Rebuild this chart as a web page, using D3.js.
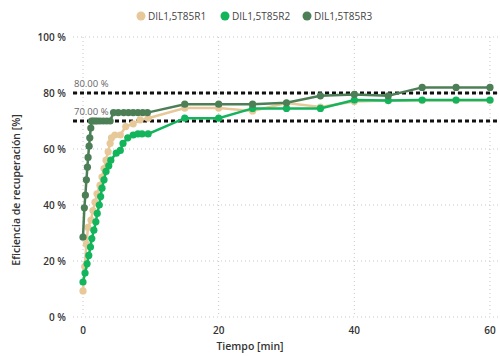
<!DOCTYPE html>
<html>
<head>
<meta charset="utf-8">
<script src="https://cdn.jsdelivr.net/npm/d3@7"></script>
<style>
  body { margin: 0; background: #fff; }
  text { font-family: "Open Sans", "DejaVu Sans", sans-serif; }
</style>
</head>
<body>
<div id="chart"></div>
<script>
// series names + colours
var seriesNames = ["DIL1,5T85R1", "DIL1,5T85R2", "DIL1,5T85R3"];
var seriesColors = ["#e7c899", "#12b45c", "#4d7f57"];

// time [min] and efficiency [%] per series
var timeR1 = [0, 0.25, 0.5, 0.74, 1.18, 1.47, 1.77, 2.06, 2.5, 2.8, 3.1, 3.4, 3.7, 4.0, 4.2, 4.7, 5.5, 6.3, 7.4, 8.4, 9.6, 15, 20, 25, 30, 35, 40, 45, 50, 55, 60];
var valR1  = [9.3, 18, 26, 32, 34.6, 38, 41, 44, 47, 50, 53, 56, 59, 62, 64, 65, 65, 68, 69, 70.4, 71, 74.6, 74.6, 73.6, 76.4, 75, 77, 77.3, 77.3, 77.3, 77.3];

var timeR2 = [0, 0.3, 0.6, 0.85, 1.1, 1.3, 1.6, 1.9, 2.1, 2.4, 2.6, 2.8, 3.1, 3.4, 3.8, 4.1, 4.9, 5.5, 5.9, 6.6, 7.4, 8.1, 8.7, 9.6, 15, 20, 25, 30, 35, 40, 45, 50, 55, 60];
var valR2  = [12.5, 15.7, 19, 22, 25, 28, 31, 34, 37, 40, 43, 46, 49, 52, 54, 56, 58.5, 59.5, 62, 64, 65, 65.4, 65.4, 65.4, 71, 71, 74.5, 74.5, 74.5, 77.5, 77.3, 77.5, 77.5, 77.5];

var timeR3 = [0, 0.2, 0.35, 0.5, 0.65, 0.75, 0.9, 1.0, 1.15, 1.25, 1.5, 1.8, 2.1, 2.5, 3.0, 3.5, 4.0, 4.5, 5.2, 6.0, 6.7, 7.4, 8.1, 8.8, 9.5, 15, 20, 25, 30, 35, 40, 45, 50, 55, 60];
var valR3  = [28.5, 39, 43.5, 49, 53.5, 57, 61, 64, 67.5, 70, 70, 70, 70, 70, 70, 70, 70, 73, 73, 73, 73, 73, 73, 73, 73, 76, 76, 76, 76.5, 79, 79.5, 79, 82, 82, 82];

var xTicks = [0, 20, 40, 60];
var yTicks = [0, 20, 40, 60, 80, 100];
var refLines = [80, 70];

var width = 500, height = 356;
var left = 73, right = 498;

var svg = d3.select("#chart").append("svg")
    .attr("width", width)
    .attr("height", height);

var x = d3.scaleLinear().domain([0, 60]).range([83, 490]);
var y = d3.scaleLinear().domain([0, 100]).range([317, 37]);

// dotted grid
svg.selectAll(".hgrid").data(yTicks).enter().append("line")
    .attr("x1", left).attr("x2", right)
    .attr("y1", function(d) { return y(d); })
    .attr("y2", function(d) { return y(d); })
    .attr("stroke", "#c8c8c8").attr("stroke-width", 1)
    .attr("stroke-dasharray", "1,3");
svg.selectAll(".vgrid").data(xTicks).enter().append("line")
    .attr("x1", function(d) { return x(d); })
    .attr("x2", function(d) { return x(d); })
    .attr("y1", y(100)).attr("y2", y(0))
    .attr("stroke", "#c8c8c8").attr("stroke-width", 1)
    .attr("stroke-dasharray", "1,3");

// tick labels
svg.selectAll(".ylab").data(yTicks).enter().append("text")
    .attr("x", 66)
    .attr("y", function(d) { return y(d) + 4; })
    .attr("text-anchor", "end")
    .attr("font-size", 10).attr("font-weight", 600)
    .attr("fill", "#333")
    .text(function(d) { return d + " %"; });
svg.selectAll(".xlab").data(xTicks).enter().append("text")
    .attr("x", function(d) { return x(d); })
    .attr("y", 334)
    .attr("text-anchor", "middle")
    .attr("font-size", 10).attr("font-weight", 600)
    .attr("fill", "#333")
    .text(function(d) { return d; });

// axis titles
svg.append("text")
    .attr("x", 250).attr("y", 350)
    .attr("text-anchor", "middle")
    .attr("font-size", 10.5).attr("font-weight", 600)
    .attr("fill", "#333")
    .text("Tiempo [min]");
svg.append("text")
    .attr("transform", "translate(20,190) rotate(-90)")
    .attr("text-anchor", "middle")
    .attr("font-size", 10.5).attr("font-weight", 600)
    .attr("fill", "#333")
    .text("Eficiencia de recuperación [%]");

// reference lines 80 / 70
svg.selectAll(".ref").data(refLines).enter().append("line")
    .attr("x1", left).attr("x2", right)
    .attr("y1", function(d) { return y(d); })
    .attr("y2", function(d) { return y(d); })
    .attr("stroke", "#111").attr("stroke-width", 3)
    .attr("stroke-dasharray", "4,3");
svg.selectAll(".reflab").data(refLines).enter().append("text")
    .attr("x", 74)
    .attr("y", function(d) { return y(d) - 6; })
    .attr("font-size", 9.5)
    .attr("fill", "#666")
    .text(function(d) { return d.toFixed(2) + " %"; });

// series
var series = [
    { t: timeR1, v: valR1 },
    { t: timeR2, v: valR2 },
    { t: timeR3, v: valR3 }
];
var line = d3.line()
    .x(function(d) { return x(d[0]); })
    .y(function(d) { return y(d[1]); });

series.forEach(function(s, i) {
    var pts = d3.zip(s.t, s.v);
    var g = svg.append("g");
    g.append("path")
        .datum(pts)
        .attr("d", line)
        .attr("fill", "none")
        .attr("stroke", seriesColors[i])
        .attr("stroke-width", 2.5);
    g.selectAll("circle").data(pts).enter().append("circle")
        .attr("cx", function(d) { return x(d[0]); })
        .attr("cy", function(d) { return y(d[1]); })
        .attr("r", 3.6)
        .attr("fill", seriesColors[i]);
});

// legend
var legendX = [141, 225, 307];
var leg = svg.selectAll(".leg").data(seriesNames).enter().append("g")
    .attr("transform", function(d, i) { return "translate(" + legendX[i] + ",16)"; });
leg.append("circle").attr("r", 4.5)
    .attr("fill", function(d, i) { return seriesColors[i]; });
leg.append("text")
    .attr("x", 7).attr("y", 3.5)
    .attr("font-size", 10)
    .attr("fill", "#444")
    .text(function(d) { return d; });
</script>
</body>
</html>
